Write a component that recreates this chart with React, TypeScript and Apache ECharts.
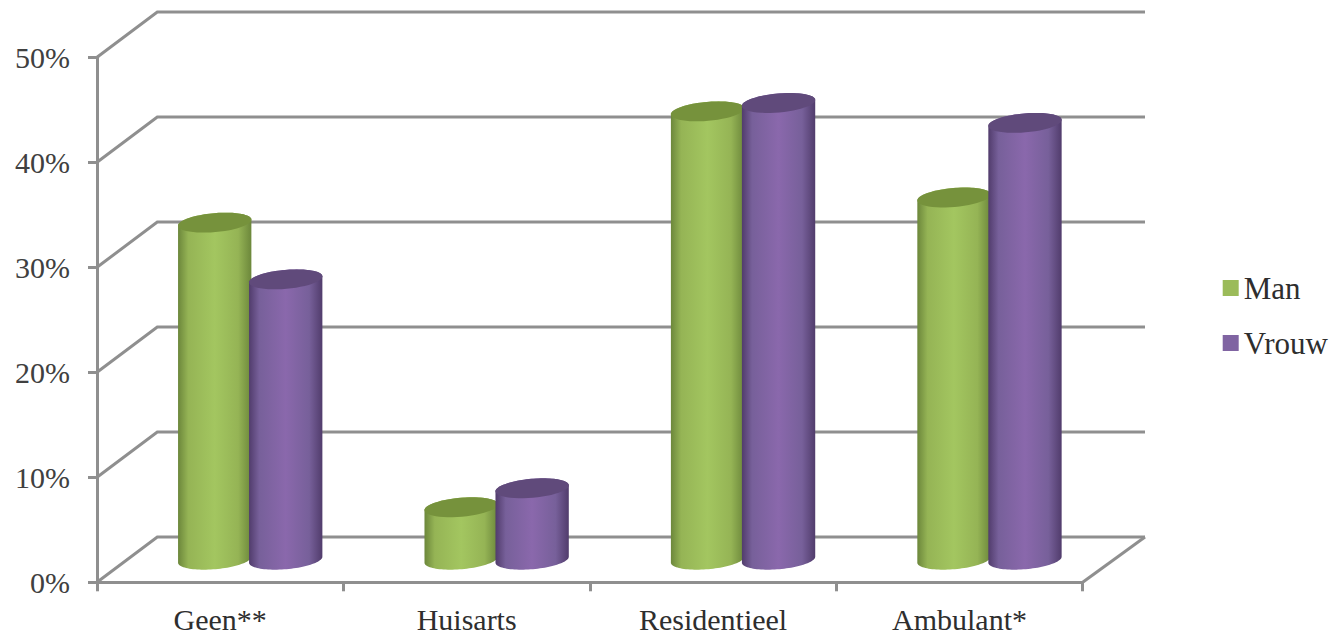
import React, { useEffect, useRef } from "react";
import * as echarts from "echarts";

const categories = ["Geen**", "Huisarts", "Residentieel", "Ambulant*"];
const manValues = [32.1, 5, 42.7, 34.5];
const vrouwValues = [26.7, 6.8, 43.5, 41.6];
const yTicks = [0, 10, 20, 30, 40, 50];

const FONT = '"Liberation Serif", serif';
const AXIS_GREY = "#8f8f8f";

function ellipsePoint(cx: number, cy: number, t: number): number[] {
  const a = 36.8;
  const b = 9.5;
  const phi = (5 * Math.PI) / 180;
  const ex = a * Math.cos(t);
  const ey = b * Math.sin(t);
  return [cx + ex * Math.cos(phi) + ey * Math.sin(phi), cy - ex * Math.sin(phi) + ey * Math.cos(phi)];
}

function arcPoints(cx: number, cy: number, from: number, to: number): number[][] {
  const pts: number[][] = [];
  const n = 48;
  for (let i = 0; i <= n; i++) {
    pts.push(ellipsePoint(cx, cy, from + ((to - from) * i) / n));
  }
  return pts;
}

function cylinderSeries(name: string, values: number[], offset: number, base: string, top: string, stops: string[]) {
  return {
    type: "custom",
    name,
    itemStyle: { color: base },
    z: 3,
    clip: false,
    data: values.map((v, i) => [i, v]),
    renderItem: (_params: any, api: any) => {
      const centre = api.coord([api.value(0), api.value(1)]);
      const foot = api.coord([api.value(0), 0]);
      const cx = centre[0] + 30 + offset;
      const topY = centre[1] - 22.6;
      const footY = foot[1] - 22.6;
      const lower = arcPoints(cx, footY, 0, Math.PI);
      const upper = arcPoints(cx, topY, Math.PI, 2 * Math.PI);
      const body = [...lower.slice().reverse(), ...upper.slice().reverse()];
      const fill = new echarts.graphic.LinearGradient(0, 0, 1, 0, [
        { offset: 0, color: stops[0] },
        { offset: 0.14, color: stops[1] },
        { offset: 0.5, color: stops[2] },
        { offset: 0.82, color: stops[1] },
        { offset: 1, color: stops[0] },
      ]);
      return {
        type: "group",
        children: [
          { type: "polygon", shape: { points: body }, style: { fill } },
          { type: "polygon", shape: { points: arcPoints(cx, topY, 0, 2 * Math.PI) }, style: { fill: top } },
        ],
      };
    },
  };
}

export default function App() {
  const ref = useRef<HTMLDivElement>(null);
  useEffect(() => {
    const chart = echarts.init(ref.current!, undefined, { renderer: "svg" });
    chart.setOption({
      animation: false,
      backgroundColor: "#ffffff",
      grid: { left: 97, right: 261.3, top: 57.3, bottom: 52.7, containLabel: false },
      legend: {
        data: [
          { name: "Man", icon: "rect" },
          { name: "Vrouw", icon: "rect" },
        ],
        orient: "vertical",
        left: 1222.7,
        top: 272.5,
        itemWidth: 16,
        itemHeight: 16,
        itemGap: 24,
        itemTextGap: 8,
        padding: 0,
        selectedMode: false,
        textStyle: { fontFamily: FONT, fontSize: 31, color: "#2e2e2e" },
      },
      xAxis: {
        type: "category",
        data: categories,
        boundaryGap: true,
        axisLine: { show: true, lineStyle: { color: AXIS_GREY, width: 3 } },
        axisTick: { show: true, alignWithLabel: false, length: 9, lineStyle: { color: AXIS_GREY, width: 3 } },
        axisLabel: { interval: 0, margin: 22, fontFamily: FONT, fontSize: 30, color: "#2e2e2e" },
      },
      yAxis: {
        type: "value",
        min: 0,
        max: 50,
        interval: 10,
        splitLine: { show: false },
        axisLine: { show: true, lineStyle: { color: AXIS_GREY, width: 3 } },
        axisTick: { show: true, length: 9, lineStyle: { color: AXIS_GREY, width: 3 } },
        axisLabel: { margin: 27, formatter: "{value}%", fontFamily: FONT, fontSize: 30, color: "#404040" },
      },
      series: [
        {
          type: "custom",
          name: "Wanden",
          silent: true,
          z: 1,
          clip: false,
          data: yTicks.map((t) => [0, t]),
          renderItem: (params: any, api: any) => {
            const sys = params.coordSys;
            const y = api.coord([0, api.value(1)])[1];
            const xL = sys.x;
            const xR = sys.x + sys.width;
            const lineStyle = { stroke: AXIS_GREY, lineWidth: 3, fill: "none" };
            const children: any[] = [
              {
                type: "polyline",
                shape: {
                  points: [
                    [xL, y],
                    [xL + 60.3, y - 45.3],
                    [xR + 62.3, y - 45.3],
                  ],
                },
                style: lineStyle,
              },
            ];
            if (api.value(1) === 0) {
              children.push({
                type: "line",
                shape: { x1: xR, y1: y, x2: xR + 62.3, y2: y - 45.3 },
                style: lineStyle,
              });
            }
            return { type: "group", children };
          },
        },
        cylinderSeries("Man", manValues, -35.5, "#9bbb59", "#76923c", ["#6c873b", "#95b455", "#a3c660"]),
        cylinderSeries("Vrouw", vrouwValues, 35.5, "#8064a2", "#604a7b", ["#513c6c", "#77609a", "#8a68ac"]),
      ],
    });
    return () => chart.dispose();
  }, []);
  return <div ref={ref} style={{ position: "fixed", left: 0, top: 0, width: 1344, height: 635 }} />;
}
